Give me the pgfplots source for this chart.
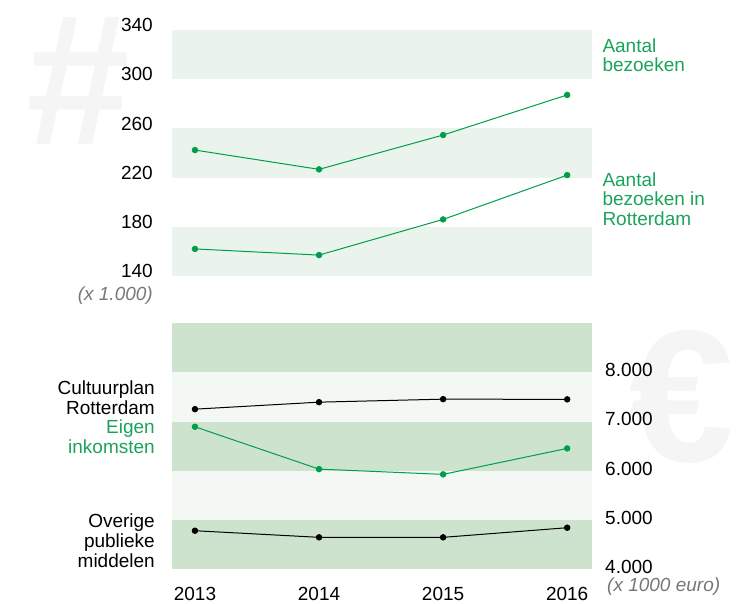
\documentclass[border=0pt]{standalone}
\usepackage{fontspec}
\setmainfont{Liberation Sans}
\usepackage{pgfplots}
\pgfplotsset{compat=1.18}
\definecolor{gline}{HTML}{009E49}
\definecolor{gtext}{HTML}{1BA35A}
\definecolor{bandtop}{HTML}{EAF4EC}
\definecolor{banddark}{HTML}{CDE3CE}
\definecolor{bandlight}{HTML}{F3F8F4}
\definecolor{wm}{HTML}{F5F5F5}
\definecolor{note}{HTML}{777777}
\begin{document}
\fontsize{19}{19.5}\selectfont
\begin{tikzpicture}
\path[use as bounding box] (0pt,0pt) rectangle (753pt,603pt);
% watermarks
\node[font=\bfseries\fontsize{186}{186}\selectfont, text=wm, inner sep=0pt] at (78pt,522pt) {\#};
\node[font=\bfseries\fontsize{188}{188}\selectfont, text=wm, inner sep=0pt] at (682pt,206.5pt) {€};
% top panel
\begin{axis}[
  at={(172pt,327pt)}, anchor=south west, scale only axis,
  width=420pt, height=246pt,
  xmin=2012.815, xmax=2016.2, ymin=140, ymax=340,
  axis line style={draw=none}, major tick length=0pt,
  xtick=\empty,
  ytick={140,180,220,260,300,340},
  yticklabels={140,180,220,260,300,340},
  yticklabel style={font=\fontsize{19}{19.5}\selectfont, anchor=base east, inner sep=0pt, xshift=-19pt, yshift=-1.8pt},
  clip=false,
]
\fill[bandtop] (axis cs:2012.815,140) rectangle (axis cs:2016.2,180);
\fill[bandtop] (axis cs:2012.815,220) rectangle (axis cs:2016.2,260);
\fill[bandtop] (axis cs:2012.815,300) rectangle (axis cs:2016.2,340);
\addplot[gline, line width=1pt, mark=*, mark size=2.7pt, mark options={fill=gline, draw=gline}] coordinates {(2013,242.4) (2014,226.7) (2015,254.6) (2016,287.2)};
\addplot[gline, line width=1pt, mark=*, mark size=2.7pt, mark options={fill=gline, draw=gline}] coordinates {(2013,162) (2014,157) (2015,186) (2016,222)};
\end{axis}
% bottom panel
\begin{axis}[
  at={(172pt,33.7pt)}, anchor=south west, scale only axis,
  width=420pt, height=246.3pt,
  xmin=2012.815, xmax=2016.2, ymin=4000, ymax=9000,
  axis line style={draw=none}, major tick length=0pt,
  xtick={2013,2014,2015,2016},
  xticklabels={2013,2014,2015,2016},
  xticklabel style={font=\fontsize{19}{19.5}\selectfont, anchor=base, inner sep=0pt, yshift=-31.4pt},
  ytick={4000,5000,6000,7000,8000},
  yticklabels={4.000,5.000,6.000,7.000,8.000},
  yticklabel pos=right,
  yticklabel style={font=\fontsize{19}{19.5}\selectfont, anchor=base west, inner sep=0pt, xshift=13pt, yshift=-4.3pt},
  clip=false,
]
\fill[banddark] (axis cs:2012.815,4000) rectangle (axis cs:2016.2,5000);
\fill[bandlight] (axis cs:2012.815,5000) rectangle (axis cs:2016.2,6000);
\fill[banddark] (axis cs:2012.815,6000) rectangle (axis cs:2016.2,7000);
\fill[bandlight] (axis cs:2012.815,7000) rectangle (axis cs:2016.2,8000);
\fill[banddark] (axis cs:2012.815,8000) rectangle (axis cs:2016.2,9000);
\addplot[black, line width=1pt, mark=*, mark size=2.7pt, mark options={fill=black}] coordinates {(2013,7251) (2014,7393) (2015,7454) (2016,7450)};
\addplot[gline, line width=1pt, mark=*, mark size=2.7pt, mark options={fill=gline, draw=gline}] coordinates {(2013,6893) (2014,6034) (2015,5927) (2016,6454)};
\addplot[black, line width=1pt, mark=*, mark size=2.7pt, mark options={fill=black}] coordinates {(2013,4783) (2014,4649) (2015,4649) (2016,4844)};
\end{axis}
% texts
\node[anchor=base east, inner sep=0pt, text=note, font=\itshape\fontsize{19}{19.5}\selectfont] at (153pt,302pt) {(x 1.000)};
\node[anchor=base west, inner sep=0pt, text=note, font=\itshape\fontsize{19}{19.5}\selectfont] at (607pt,11.3pt) {(x 1000 euro)};
\node[anchor=base west, inner sep=0pt, text=gtext] at (602.3pt,550.7pt) {Aantal};
\node[anchor=base west, inner sep=0pt, text=gtext] at (602.3pt,531.3pt) {bezoeken};
\node[anchor=base west, inner sep=0pt, text=gtext] at (602.3pt,416.3pt) {Aantal};
\node[anchor=base west, inner sep=0pt, text=gtext] at (602.3pt,397pt) {bezoeken in};
\node[anchor=base west, inner sep=0pt, text=gtext] at (602.3pt,377.3pt) {Rotterdam};
\node[anchor=base east, inner sep=0pt] at (155pt,208pt) {Cultuurplan};
\node[anchor=base east, inner sep=0pt] at (155pt,188pt) {Rotterdam};
\node[anchor=base east, inner sep=0pt, text=gtext] at (155pt,169pt) {Eigen};
\node[anchor=base east, inner sep=0pt, text=gtext] at (155pt,149pt) {inkomsten};
\node[anchor=base east, inner sep=0pt] at (155pt,75.3pt) {Overige};
\node[anchor=base east, inner sep=0pt] at (155pt,55.5pt) {publieke};
\node[anchor=base east, inner sep=0pt] at (155pt,35.7pt) {middelen};
\end{tikzpicture}
\end{document}
